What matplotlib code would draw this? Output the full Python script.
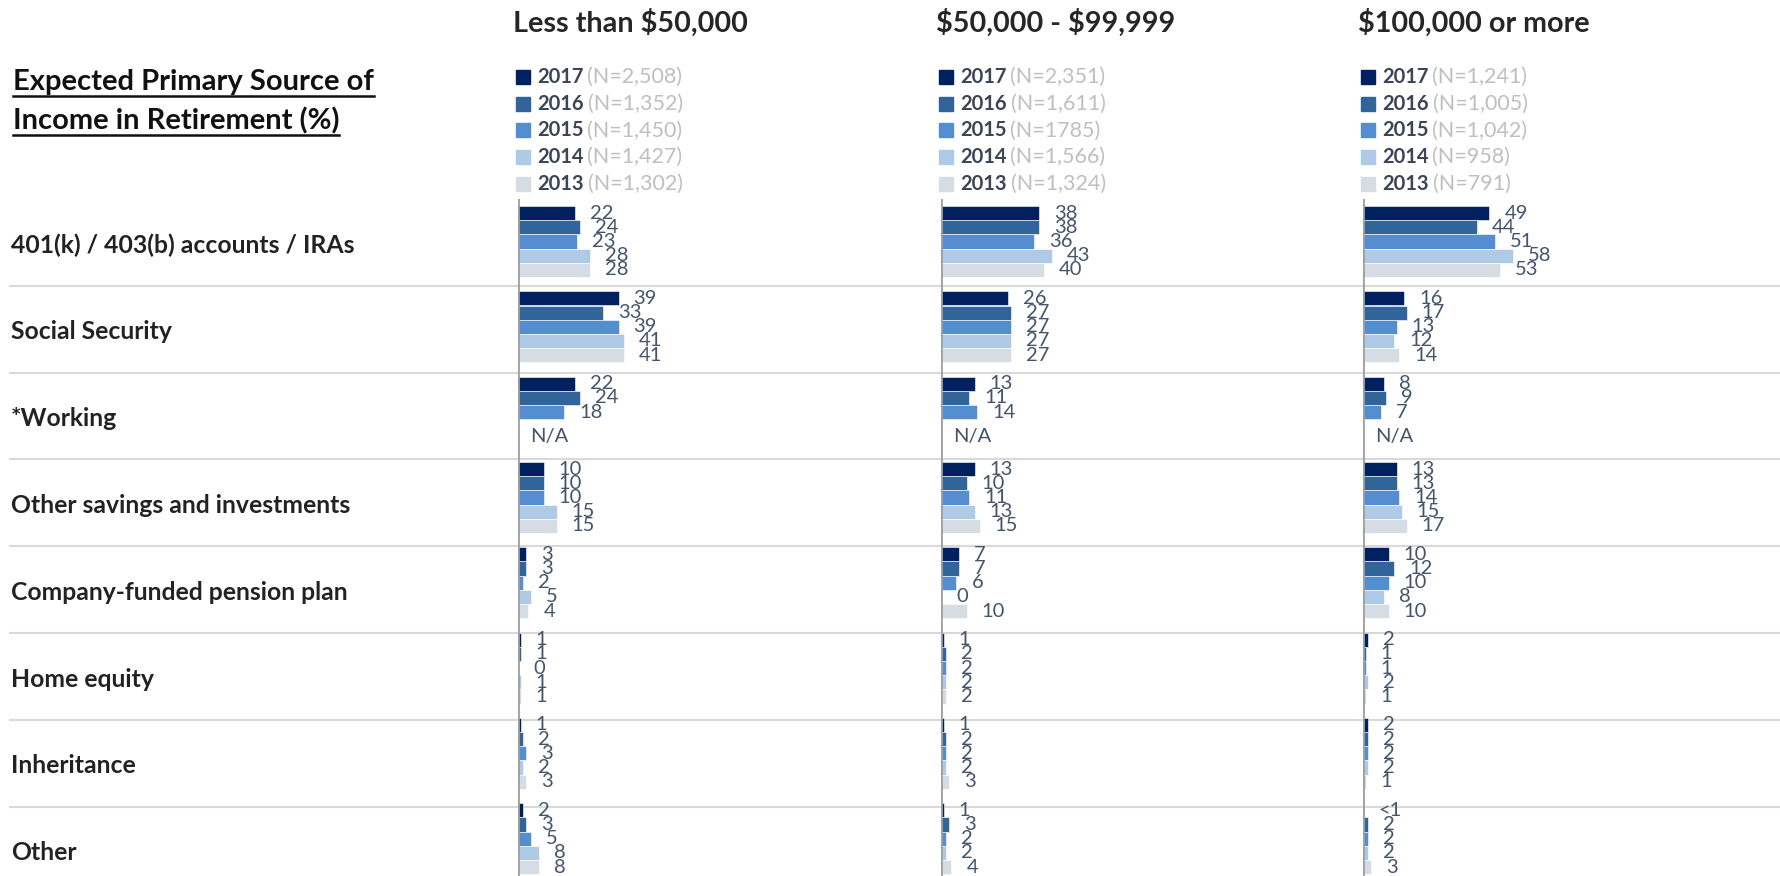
import matplotlib.pyplot as plt
from matplotlib.patches import Rectangle
from matplotlib.lines import Line2D

categories = ["401(k) / 403(b) accounts / IRAs", "Social Security", "*Working",
              "Other savings and investments", "Company-funded pension plan",
              "Home equity", "Inheritance", "Other"]
years = ["2017", "2016", "2015", "2014", "2013"]
year_colors = ["#002060", "#31659A", "#558ED0", "#AFCAE6", "#D6DCE4"]

panel_titles = ["Less than $50,000", "$50,000 - $99,999", "$100,000 or more"]
low_n = ["(N=2,508)", "(N=1,352)", "(N=1,450)", "(N=1,427)", "(N=1,302)"]
mid_n = ["(N=2,351)", "(N=1,611)", "(N=1785)", "(N=1,566)", "(N=1,324)"]
high_n = ["(N=1,241)", "(N=1,005)", "(N=1,042)", "(N=958)", "(N=791)"]

# one row per category, columns 2017..2013, None = N/A
low_income = [[22, 24, 23, 28, 28], [39, 33, 39, 41, 41], [22, 24, 18, None, None],
              [10, 10, 10, 15, 15], [3, 3, 2, 5, 4], [1, 1, 0, 1, 1],
              [1, 2, 3, 2, 3], [2, 3, 5, 8, 8]]
mid_income = [[38, 38, 36, 43, 40], [26, 27, 27, 27, 27], [13, 11, 14, None, None],
              [13, 10, 11, 13, 15], [7, 7, 6, 0, 10], [1, 2, 2, 2, 2],
              [1, 2, 2, 2, 3], [1, 3, 2, 2, 4]]
high_income = [[49, 44, 51, 58, 53], [16, 17, 13, 12, 14], [8, 9, 7, None, None],
               [13, 13, 14, 15, 17], [10, 12, 10, 8, 10], [2, 1, 1, 2, 1],
               [2, 2, 2, 2, 1], [0.3, 2, 2, 2, 3]]

FONT = "Lato"
W, H = 1781, 876
ROWS_TOP = 199          # px from top where the first row starts
ROW_H = 86.8            # px between separators
GROUP_TOP = 206         # px where the first bar group starts
GROUP_H = 85.3          # px between bar groups
PANEL_X = [518, 941, 1363]
PANEL_W = 380
UNIT = 2.58             # px per percentage point
BAR_H = 14.2 / GROUP_H
LABEL_GAP = 5.8         # percentage points between bar end and its label


def label_for(v):
    if v is None:
        return None
    if 0 < v < 1:
        return "<1"
    return str(int(v))


def main():
    plt.rcParams['font.family'] = [FONT, 'DejaVu Sans']
    fig = plt.figure(figsize=(W / 100, H / 100), dpi=100)

    ax_h = (H - ROWS_TOP) / H
    nrows = (H - ROWS_TOP) / ROW_H

    # background: separators and category names
    bg = fig.add_axes([0, 0, 1, ax_h])
    bg.set_xlim(0, W)
    bg.set_ylim(nrows, 0)
    bg.axis('off')
    for i in range(1, len(categories)):
        bg.plot([9, W], [i, i], color="#D9D9D9", lw=1.5, solid_capstyle='butt')
    for i, cat in enumerate(categories):
        bg.text(11, i + 0.53, cat, va='center', ha='left', fontsize=17.8,
                fontweight='bold', color="#222222")

    # left title, underlined
    title_lines = ["Expected Primary Source of", "Income in Retirement (%)"]
    fig.canvas.draw()
    r = fig.canvas.get_renderer()
    for k, line in enumerate(title_lines):
        yc = 1 - (82 + 38.6 * k) / H
        t = fig.text(13 / W, yc, line, ha='left', va='center', fontsize=21,
                     fontweight='bold', color="#111111")
        bb = t.get_window_extent(renderer=r)
        uy = (bb.y0 - 1) / H
        fig.add_artist(Line2D([bb.x0 / W, bb.x1 / W], [uy, uy], color="#111111", lw=1.8))

    panels = [(low_income, low_n), (mid_income, mid_n), (high_income, high_n)]
    for p, (data, ns) in enumerate(panels):
        x0 = PANEL_X[p]
        ax = fig.add_axes([x0 / W, 0, PANEL_W / W, ax_h])
        ax.set_xlim(0, PANEL_W / UNIT)
        ax.set_ylim((H - GROUP_TOP) / GROUP_H, (ROWS_TOP - GROUP_TOP) / GROUP_H)
        ax.axis('off')
        ax.axvline(0, color="#A0A0A0", lw=2, zorder=5)

        for i, row in enumerate(data):
            na_done = False
            for k, v in enumerate(row):
                yc = i + (k + 0.5) * BAR_H
                if v is None:
                    if not na_done:
                        ax.text(4.6, i + 4.25 * BAR_H, "N/A", va='center', ha='left',
                                fontsize=14.5, color="#44546A")
                        na_done = True
                    continue
                ax.barh(yc, v, height=BAR_H, color=year_colors[k],
                        edgecolor='white', lw=0.4)
                ax.text(v + LABEL_GAP, yc, label_for(v), va='center',
                        ha='left', fontsize=14.5, color="#44546A")

        # panel header
        fig.text((x0 - 5) / W, 1 - 23 / H, panel_titles[p], ha='left', va='center',
                 fontsize=20.7, fontweight='bold', color="#262626", parse_math=False)

        # legend
        for k, yr in enumerate(years):
            yc = 1 - (77 + 26.7 * k) / H
            fig.add_artist(Rectangle(((x0 - 2) / W, yc - 7 / H), 14 / W, 14 / H,
                                     color=year_colors[k], transform=fig.transFigure))
            t = fig.text((x0 + 19) / W, yc, yr, ha='left', va='center', fontsize=14.5,
                         fontweight='bold', color="#3B4556")
            bb = t.get_window_extent(renderer=r)
            fig.text((bb.x1 + 4) / W, yc, ns[k], ha='left', va='center',
                     fontsize=15.5, color="#BFBFBF")

    fig.savefig("out.png", dpi=100)
    return 0


if __name__ == '__main__':
    main()
